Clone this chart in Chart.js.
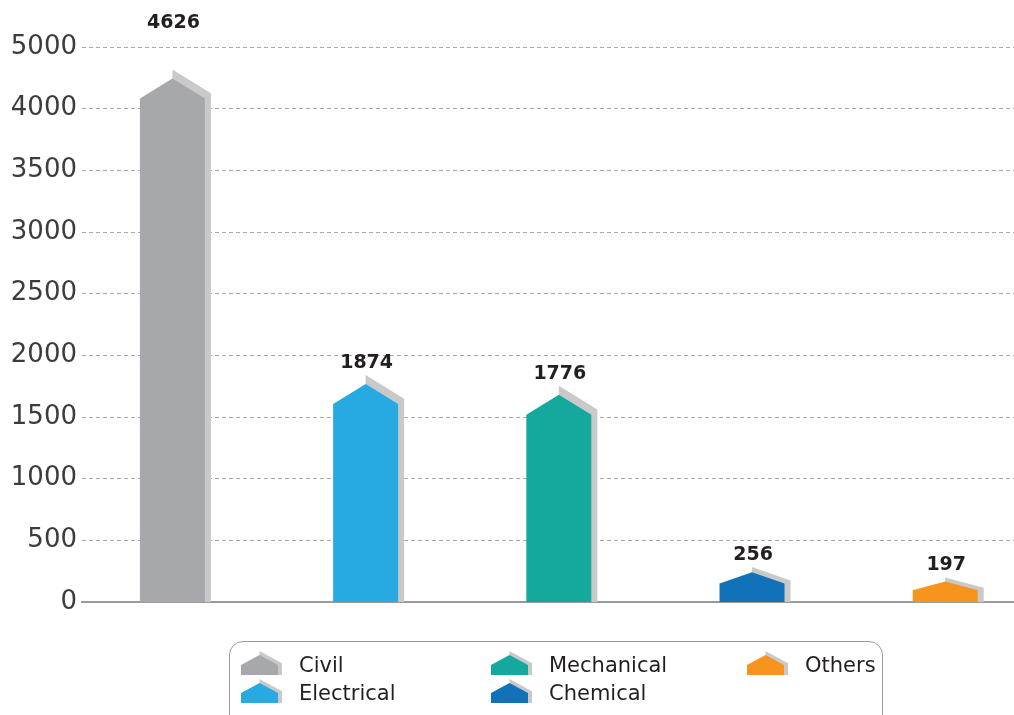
<!DOCTYPE html>
<html>
<head>
<meta charset="utf-8">
<script src="https://cdn.jsdelivr.net/npm/chart.js@4/dist/chart.umd.min.js"></script>
<style>
  html, body { margin: 0; padding: 0; background: #fff; }
  #wrap { position: relative; width: 1014px; height: 715px; overflow: hidden; }
  #legend {
    position: absolute; left: 229px; top: 641px; width: 654px; height: 95px;
    border: 1.5px solid #9a9a9a; border-radius: 14px; box-sizing: border-box;
  }
  .item { position: absolute; height: 26px; font-family: "DejaVu Sans"; font-size: 21px; color: #231f20; }
  .item svg { position: absolute; left: 0; top: 0; }
  .item span { position: absolute; left: 58px; top: 1px; white-space: nowrap; line-height: 26px; }
</style>
</head>
<body>
<div id="wrap">
  <canvas id="chartUI" width="1014" height="715"></canvas>
  <div id="legend"></div>
</div>
<script>
// podaci
var categories = ['Civil', 'Electrical', 'Mechanical', 'Chemical', 'Others'];
var values = [4626, 1874, 1776, 256, 197];
var colors = ['#a6a8ab', '#27aae1', '#15a89c', '#1172ba', '#f7941d'];
var tickLabels = ['0', '500', '1000', '1500', '2000', '2500', '3000', '3500', '4000', '5000'];
var shadowColor = '#c9c9c9';

// crtanje "kucica" umesto obicnih stubica
var housePlugin = {
  id: 'house',
  afterDatasetsDraw: function(chart) {
    var ctx = chart.ctx;
    var meta = chart.getDatasetMeta(0);
    ctx.save();
    meta.data.forEach(function(bar, i) {
      var half = bar.width / 2, l = bar.x - half, r = bar.x + half, base = bar.base;
      var roof = Math.min(20, (base - bar.y) * 0.4);
      var peak = bar.y - roof + 10;
      var eave = peak + roof;
      var up = roof * 0.45;
      var sPeak = peak - up;
      var slope = roof / half;
      var sEave = sPeak + slope * (half + 6);

      ctx.fillStyle = shadowColor;
      ctx.beginPath();
      ctx.moveTo(bar.x, sPeak);
      ctx.lineTo(r + 6, sEave);
      ctx.lineTo(r + 6, base);
      ctx.lineTo(bar.x, base);
      ctx.closePath();
      ctx.fill();

      ctx.fillStyle = colors[i];
      ctx.beginPath();
      ctx.moveTo(l, eave);
      ctx.lineTo(bar.x, peak);
      ctx.lineTo(r, eave);
      ctx.lineTo(r, base);
      ctx.lineTo(l, base);
      ctx.closePath();
      ctx.fill();

      var ly = sPeak - 7;
      if (ly < chart.chartArea.top + 20) ly = chart.chartArea.top - 19;
      ctx.fillStyle = '#231f20';
      ctx.font = 'bold 19px "DejaVu Sans"';
      ctx.textAlign = 'center';
      ctx.textBaseline = 'alphabetic';
      ctx.fillText(String(values[i]), bar.x + 1, ly);
    });
    ctx.restore();
  }
};

Chart.defaults.font.family = '"DejaVu Sans"';

var chart = new Chart(document.getElementById('chartUI'), {
  type: 'bar',
  data: {
    datasets: [{
      data: categories.map(function(c, i) { return { x: i, y: values[i] }; }),
      backgroundColor: 'rgba(0,0,0,0)',
      barThickness: 65,
      yAxisID: 'yBars'
    }]
  },
  options: {
    responsive: false,
    animation: false,
    layout: { padding: { top: 47, bottom: 113, left: 0, right: 0 } },
    plugins: { legend: { display: false }, tooltip: { enabled: false } },
    scales: {
      x: {
        type: 'linear', min: -0.468, max: 4.356, offset: false,
        ticks: { display: false },
        grid: { display: false },
        border: { display: true, color: '#9a9a9a', width: 2 },
        afterFit: function(s) { s.height = 0; }
      },
      y: {
        min: 0, max: 4500,
        ticks: {
          stepSize: 500, autoSkip: false, padding: 5,
          color: '#3c3c3c', font: { size: 26 },
          callback: function(v, i) { return tickLabels[i]; }
        },
        grid: { color: '#aaaaaa', lineWidth: 1, drawTicks: false },
        border: { display: false, dash: [4, 3] },
        afterFit: function(s) { s.width = 82; }
      },
      yBars: { display: false, min: 0, max: 5000 }
    }
  },
  plugins: [housePlugin]
});

// legenda
var legendCols = [11, 261, 517];
var legendRows = [9, 37];
var legendEl = document.getElementById('legend');
categories.forEach(function(name, i) {
  var col = Math.floor(i / 2), row = i % 2;
  var d = document.createElement('div');
  d.className = 'item';
  d.style.left = legendCols[col] + 'px';
  d.style.top = legendRows[row] + 'px';
  d.innerHTML = '<svg width="42" height="25">' +
    '<polygon points="18.5,0 41,12.2 41,24 18.5,24" fill="' + shadowColor + '"/>' +
    '<polygon points="0,14 18.5,4 37,14 37,24 0,24" fill="' + colors[i] + '"/>' +
    '</svg><span>' + name + '</span>';
  legendEl.appendChild(d);
});
</script>
</body>
</html>
